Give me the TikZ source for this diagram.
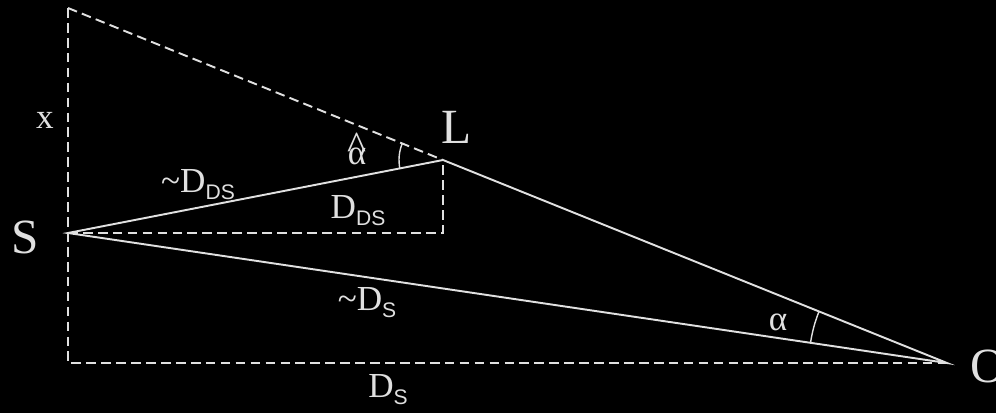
\documentclass[tikz,border=0pt]{standalone}
\usepackage{fontspec}
\setmainfont{Liberation Serif}
\setsansfont{Liberation Sans}
\usetikzlibrary{angles,positioning,calc}
\definecolor{linegray}{gray}{0.88}
\tikzset{
  dashline/.style={draw=linegray,line width=1.1pt,dash pattern=on 5.5pt off 3pt},
  solidline/.style={draw=linegray,line width=1.1pt},
  arcline/.style={draw=linegray,line width=0.8pt},
  biglbl/.style={text=linegray,font=\fontsize{28}{30}\selectfont,inner sep=0pt},
  lbl/.style={text=linegray,font=\fontsize{20}{22}\selectfont,inner sep=0pt}
}
\newcommand{\dsub}[1]{\raisebox{-4pt}{\sffamily\fontsize{12}{12}\selectfont #1}}
\newcommand{\hatalpha}{\ooalign{α\cr\hidewidth\raisebox{3pt}{\fontsize{23}{0}\selectfont\textasciicircum}\hidewidth\cr}}

\begin{document}
\begin{tikzpicture}[x=0.02cm,y=0.02cm]
    % Background
    \fill[black] (0,0) rectangle (996,413);
    \useasboundingbox (0,0) rectangle (996,413);

    % Points
    \coordinate (top) at (68,405);
    \coordinate (S) at (68,180);
    \coordinate (bl) at (68,50);
    \coordinate (O) at (947,50);
    \coordinate (L) at (443,253);
    \coordinate (foot) at (443,180);

    % Dashed construction lines
    \draw[dashline] (top) -- (bl) -- (O);
    \draw[dashline] (top) -- (L);
    \draw[dashline] (S) -- (foot) -- (L);

    % Rays
    \draw[solidline] (S) -- (L) -- (O) -- cycle;

    % Angles
    \pic[arcline,angle radius=2.76cm] {angle=L--O--S};
    \pic[arcline,angle radius=0.88cm] {angle=top--L--S};

    % Point labels
    \node[biglbl] (Slbl) at (25,176) {S};
    \node[biglbl] (Llbl) at (457,286) {L};
    \node[biglbl] (Olbl) at (988,47) {O};
    \node[lbl] (xlbl) at (45,293) {x};

    % Angle labels
    \node[lbl] (ahat) at (357,257) {\hatalpha};
    \node[lbl] (alpha) at (778,91) {α};

    % Distance labels
    \node[lbl] (dds1) at (198,228) {\textasciitilde D\dsub{DS}};
    \node[lbl] (dds2) at (358,202) {D\dsub{DS}};
    \node[lbl] (ds1) at (367,110) {\textasciitilde D\dsub{S}};
    \node[lbl] (ds2) at (388,23) {D\dsub{S}};
\end{tikzpicture}
\end{document}
